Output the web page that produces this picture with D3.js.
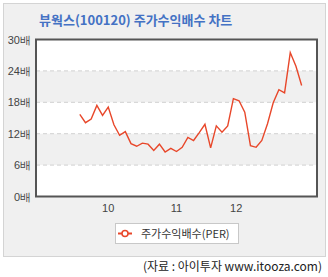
<!DOCTYPE html>
<html>
<head>
<meta charset="utf-8">
<script src="https://cdn.jsdelivr.net/npm/d3@7"></script>
<style>
  body { margin: 0; background: #fff; }
  svg { display: block; font-family: "Noto Sans CJK KR", "Noto Sans", sans-serif; }
</style>
</head>
<body>
<script>
(function () {
    'use strict';

    const width = 328;
    const height = 277;
    const margin = {top: 39.5, left: 36, right: 11, bottom: 80.5};

    // PER values, monthly
    const perValues = [15.7, 14.1, 14.8, 17.4, 15.5, 17.1, 13.7, 11.7, 12.4, 10.1,
                       9.6, 10.2, 10.0, 8.8, 10.0, 8.5, 9.2, 8.6, 9.4, 11.3,
                       10.7, 12.2, 13.8, 9.3, 13.5, 12.3, 13.5, 18.7, 18.3, 16.1,
                       9.7, 9.4, 10.7, 13.9, 17.9, 20.4, 19.8, 27.5, 24.9, 21.2];
    const xTickPos = [4.9, 16.9, 27.4];
    const xTickLabels = ['10', '11', '12'];
    const yTicks = [0, 6, 12, 18, 24, 30];

    const svg = d3.select('body')
        .append('svg')
        .attr('width', width)
        .attr('height', height);

    // outer panel
    svg.append('rect')
        .attr('x', 3.5).attr('y', 3.5)
        .attr('width', 322).attr('height', 253)
        .attr('fill', '#f0f0f0')
        .attr('stroke', '#d4d4d4');

    svg.append('text')
        .attr('x', 39).attr('y', 25)
        .attr('fill', '#4472c4')
        .attr('font-size', 13)
        .attr('font-weight', 'bold')
        .text('뷰웍스(100120) 주가수익배수 차트');

    const x = d3.scaleLinear()
        .domain([-7.7, 41.7])
        .range([margin.left, width - margin.right]);

    const y = d3.scaleLinear()
        .domain([0, 30])
        .range([height - margin.bottom, margin.top]);

    // plot background bands
    const plot = svg.append('g');
    plot.append('rect')
        .attr('x', margin.left).attr('y', margin.top)
        .attr('width', width - margin.left - margin.right)
        .attr('height', y(0) - y(30))
        .attr('fill', '#fff');

    plot.selectAll('.band')
        .data([[18, 24], [6, 12]])
        .enter().append('rect')
        .attr('class', 'band')
        .attr('x', margin.left)
        .attr('y', d => y(d[1]))
        .attr('width', width - margin.left - margin.right)
        .attr('height', d => y(d[0]) - y(d[1]))
        .attr('fill', '#f0f0f0');

    plot.selectAll('.grid')
        .data(yTicks.slice(1, -1))
        .enter().append('line')
        .attr('class', 'grid')
        .attr('x1', margin.left).attr('x2', width - margin.right)
        .attr('y1', d => y(d)).attr('y2', d => y(d))
        .attr('stroke', '#d0d0d0')
        .attr('stroke-dasharray', '4,3');

    // y axis labels
    const yAxis = d3.axisLeft(y)
        .tickValues(yTicks)
        .tickSize(0)
        .tickPadding(5)
        .tickFormat(d => d + '배');
    svg.append('g')
        .attr('transform', `translate(${margin.left},0)`)
        .call(yAxis)
        .call(g => g.select('.domain').remove())
        .selectAll('text')
        .attr('font-size', 11)
        .attr('fill', '#444');

    // x axis labels
    const xAxis = d3.axisBottom(x)
        .tickValues(xTickPos)
        .tickSize(0)
        .tickPadding(8)
        .tickFormat((d, i) => xTickLabels[i]);
    svg.append('g')
        .attr('transform', `translate(0,${y(0)})`)
        .call(xAxis)
        .call(g => g.select('.domain').remove())
        .selectAll('text')
        .attr('font-size', 11)
        .attr('fill', '#444');

    // line
    const line = d3.line()
        .x((d, i) => x(i))
        .y(d => y(d));

    svg.append('path')
        .datum(perValues)
        .attr('d', line)
        .attr('fill', 'none')
        .attr('stroke', '#e8472a')
        .attr('stroke-width', 1.4);

    // plot border
    svg.append('rect')
        .attr('x', margin.left).attr('y', margin.top)
        .attr('width', width - margin.left - margin.right)
        .attr('height', y(0) - y(30))
        .attr('fill', 'none')
        .attr('stroke', '#555')
        .attr('stroke-width', 2);

    // legend
    const legend = svg.append('g');
    legend.append('rect')
        .attr('x', 115.5).attr('y', 223.5)
        .attr('width', 123).attr('height', 20)
        .attr('fill', '#fff')
        .attr('stroke', '#c8c8c8');
    legend.append('line')
        .attr('x1', 118).attr('x2', 132)
        .attr('y1', 233.5).attr('y2', 233.5)
        .attr('stroke', '#e8472a')
        .attr('stroke-width', 2);
    legend.append('circle')
        .attr('cx', 125).attr('cy', 233.5).attr('r', 3)
        .attr('fill', '#fff')
        .attr('stroke', '#e8472a')
        .attr('stroke-width', 1.5);
    legend.append('text')
        .attr('x', 141).attr('y', 237.5)
        .attr('font-size', 11)
        .attr('fill', '#333')
        .text('주가수익배수(PER)');

    svg.append('text')
        .attr('x', 322).attr('y', 271)
        .attr('text-anchor', 'end')
        .attr('font-size', 12)
        .attr('fill', '#222')
        .text('(자료 : 아이투자 www.itooza.com)');

}());
</script>
</body>
</html>
